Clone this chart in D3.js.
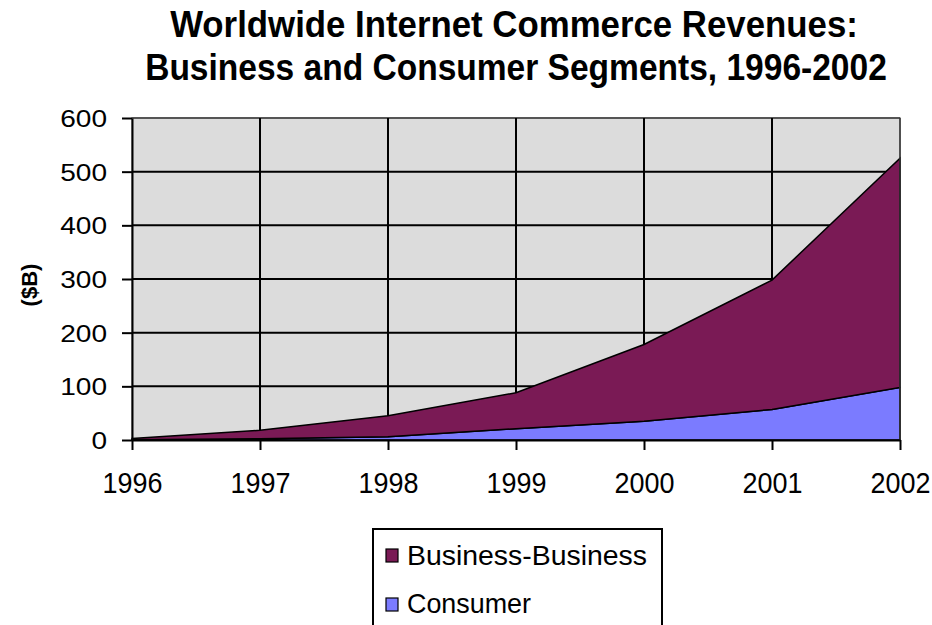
<!DOCTYPE html>
<html>
<head>
<meta charset="utf-8">
<script src="https://cdn.jsdelivr.net/npm/d3@7/dist/d3.min.js"></script>
<style>
  html, body { margin: 0; padding: 0; background: #ffffff; }
  svg { display: block; }
</style>
</head>
<body>
<svg id="chart" width="932" height="625"></svg>
<script>
// Revenue estimates, $ billions
const years = [1996, 1997, 1998, 1999, 2000, 2001, 2002];
const consumer = [0.5, 2.5, 6, 21, 35, 57, 98];
const businessBusiness = [2.5, 15.5, 39, 67, 143, 241, 427];
const yTicks = [0, 100, 200, 300, 400, 500, 600];
const seriesNames = ["Consumer", "Business-Business"];
const seriesColors = { "Consumer": "#7b7bff", "Business-Business": "#7a1a55" };
const titleLines = [
  "Worldwide Internet Commerce Revenues:",
  "Business and Consumer Segments, 1996-2002"
];

(function () {
const svg = d3.select("#chart");
const plotL = 132, plotR = 900, plotT = 118, plotB = 440;

const x = d3.scaleLinear().domain([1996, 2002]).range([plotL, plotR]);
const y = d3.scaleLinear().domain([0, 600]).range([plotB, plotT]);

// Squeeze a text horizontally to a target width around its anchor
function fitWidth(sel, target, tx, ty) {
  sel.each(function (d, i) {
    const node = this;
    const w = node.getComputedTextLength();
    const t = typeof target === "function" ? target(d, i) : target;
    const px = typeof tx === "function" ? tx(d, i) : tx;
    const py = typeof ty === "function" ? ty(d, i) : ty;
    d3.select(node).attr("transform", `translate(${px},${py}) scale(${t / w},1)`);
  });
}

// Title (condensed bold)
const titleSpec = [
  { cx: 514, base: 37, len: 688 },
  { cx: 516, base: 80, len: 742 }
];
svg.selectAll("text.title")
  .data(titleLines)
  .join("text")
  .attr("class", "title")
  .attr("text-anchor", "middle")
  .attr("font-family", "'Liberation Sans Narrow', 'Liberation Sans', Arial, sans-serif")
  .attr("font-weight", "bold")
  .attr("font-size", 37)
  .attr("fill", "#000")
  .text(d => d)
  .call(fitWidth, (d, i) => titleSpec[i].len, (d, i) => titleSpec[i].cx, (d, i) => titleSpec[i].base);

// Plot background
svg.append("rect")
  .attr("x", plotL).attr("y", plotT)
  .attr("width", plotR - plotL).attr("height", plotB - plotT)
  .attr("fill", "#dcdcdc")
  .attr("stroke", "#8a8a8a")
  .attr("stroke-width", 1.5);

// Gridlines
svg.append("g")
  .selectAll("line")
  .data(yTicks.filter(v => v > 0))
  .join("line")
  .attr("x1", plotL).attr("x2", plotR)
  .attr("y1", d => y(d)).attr("y2", d => y(d))
  .attr("stroke", d => d === 600 ? "#555" : "#000")
  .attr("stroke-width", 2);

svg.append("g")
  .selectAll("line")
  .data(years.filter(v => v > 1996 && v < 2002))
  .join("line")
  .attr("x1", d => x(d)).attr("x2", d => x(d))
  .attr("y1", plotT).attr("y2", plotB)
  .attr("stroke", "#000")
  .attr("stroke-width", 2);

// Stacked areas
const rows = years.map((yr, i) => ({
  year: yr,
  "Consumer": consumer[i],
  "Business-Business": businessBusiness[i]
}));
const stacked = d3.stack().keys(seriesNames)(rows);
const area = d3.area()
  .x(d => x(d.data.year))
  .y0(d => y(d[0]))
  .y1(d => y(d[1]));

svg.append("g")
  .selectAll("path")
  .data(stacked)
  .join("path")
  .attr("d", area)
  .attr("fill", d => seriesColors[d.key])
  .attr("stroke", "#000")
  .attr("stroke-width", 1.5)
  .attr("stroke-linejoin", "miter");

// Right border over the area edge
svg.append("line")
  .attr("x1", plotR).attr("x2", plotR)
  .attr("y1", plotT).attr("y2", plotB)
  .attr("stroke", "#333").attr("stroke-width", 1.5);

// Y axis
const yAxis = svg.append("g")
  .attr("transform", `translate(${plotL},0)`)
  .call(d3.axisLeft(y).tickValues(yTicks).tickSize(10).tickSizeOuter(0).tickPadding(15));
yAxis.select(".domain").attr("stroke", "#000").attr("stroke-width", 2);
yAxis.selectAll(".tick line").attr("stroke", "#000").attr("stroke-width", 2);
yAxis.selectAll(".tick text")
  .attr("font-family", "'Liberation Sans', Arial, sans-serif")
  .attr("font-size", 23.5)
  .attr("fill", "#000")
  .attr("dy", "0.36em")
  .attr("textLength", d => String(d).length * 15.6)
  .attr("lengthAdjust", "spacingAndGlyphs");

// X axis
const xAxis = svg.append("g")
  .attr("transform", `translate(0,${plotB})`)
  .call(d3.axisBottom(x).tickValues(years).tickFormat(d3.format("d")).tickSize(10).tickSizeOuter(0).tickPadding(0));
xAxis.select(".domain").attr("stroke", "#000").attr("stroke-width", 2);
xAxis.selectAll(".tick line").attr("stroke", "#000").attr("stroke-width", 2);
xAxis.selectAll(".tick text")
  .attr("font-family", "'Liberation Sans', Arial, sans-serif")
  .attr("font-size", 30)
  .attr("fill", "#000")
  .attr("y", 0)
  .attr("dy", 0)
  .call(fitWidth, 60, 0, 53);

// Y axis title
svg.append("text")
  .attr("transform", "translate(37,285) rotate(-90)")
  .attr("text-anchor", "middle")
  .attr("font-family", "'Liberation Sans', Arial, sans-serif")
  .attr("font-weight", "bold")
  .attr("font-size", 22)
  .attr("fill", "#000")
  .text("($B)");

// Legend
const legend = svg.append("g");
legend.append("rect")
  .attr("x", 373).attr("y", 529)
  .attr("width", 289).attr("height", 130)
  .attr("fill", "#fff")
  .attr("stroke", "#000")
  .attr("stroke-width", 2);

const legendItems = [
  { key: "Business-Business", sy: 549, base: 565, len: 240 },
  { key: "Consumer", sy: 598, base: 613, len: 124 }
];
const li = legend.selectAll("g.item")
  .data(legendItems)
  .join("g")
  .attr("class", "item");
li.append("rect")
  .attr("x", 386).attr("y", d => d.sy)
  .attr("width", 12).attr("height", 13)
  .attr("fill", d => seriesColors[d.key])
  .attr("stroke", "#000").attr("stroke-width", 1.2);
li.append("text")
  .attr("x", 407).attr("y", d => d.base)
  .attr("font-family", "'Liberation Sans', Arial, sans-serif")
  .attr("font-size", 28)
  .attr("fill", "#000")
  .attr("textLength", d => d.len)
  .attr("lengthAdjust", "spacingAndGlyphs")
  .text(d => d.key);
})();
</script>
</body>
</html>
